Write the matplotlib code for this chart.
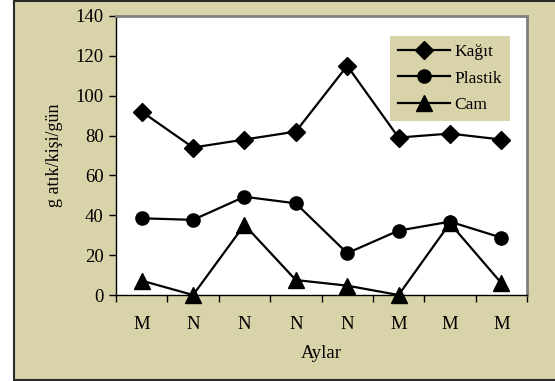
import matplotlib
matplotlib.use("Agg")
import matplotlib.pyplot as plt
from matplotlib.patches import Rectangle
import numpy as np

plt.rcParams['font.family'] = ['Liberation Serif', 'DejaVu Serif']

months = ["M", "N", "N", "N", "N", "M", "M", "M"]
kagit = [92, 74, 78, 82, 115, 79, 81, 78]
plastik = [38.5, 37.7, 49.3, 46, 21, 32.3, 36.8, 28.8]
cam = [7.2, 0, 35.2, 7.5, 4.7, 0, 36, 6]

beige = "#d9d3a9"

fig = plt.figure(figsize=(5.55, 3.81), dpi=100)
fig.patches.append(Rectangle((13.5 / 555, 1.0 / 381), 1.0, (381 - 1.5) / 381,
                             transform=fig.transFigure, facecolor=beige,
                             edgecolor="#2b2b2b", linewidth=1.5, zorder=-10))

ax = fig.add_axes([116 / 555, 86 / 381, 411 / 555, 279 / 381])
ax.set_facecolor("white")

x = np.arange(len(months))
ax.plot(x, kagit, color="black", lw=1.6, marker="D", ms=9, label="Kağıt", clip_on=False)
ax.plot(x, plastik, color="black", lw=1.6, marker="o", ms=9.5, label="Plastik", clip_on=False)
ax.plot(x, cam, color="black", lw=1.6, marker="^", ms=11, label="Cam", clip_on=False)

ax.set_xlim(-0.5, len(months) - 0.5)
ax.set_ylim(0, 140)
ax.set_yticks(np.arange(0, 141, 20))
ax.set_xticks(np.arange(-0.5, len(months), 1))
ax.set_xticklabels([])
ax.set_xticks(x, minor=True)
ax.set_xticklabels(months, minor=True)
ax.tick_params(axis="both", which="major", direction="out", length=5, width=1,
               labelsize=13.5, colors="black", pad=4)
ax.tick_params(axis="x", which="minor", length=0, labelsize=13.5, pad=15)

for s in ["left", "bottom"]:
    ax.spines[s].set_color("black")
    ax.spines[s].set_linewidth(1)
for s in ["top", "right"]:
    ax.spines[s].set_color("#808080")
    ax.spines[s].set_linewidth(2)

ax.set_xlabel("Aylar", fontsize=13.5, labelpad=9)
ax.set_ylabel("g atık/kişi/gün", fontsize=13, labelpad=9)

leg = ax.legend(loc="upper right", bbox_to_anchor=((510 - 116) / 411, (295 - 36) / 279),
                borderaxespad=0, fontsize=12.5, handlelength=3.0, handletextpad=0.25,
                labelspacing=0.6, fancybox=False, framealpha=1,
                facecolor=beige, edgecolor="none", borderpad=0.45)

fig.savefig("out.png", dpi=100)
